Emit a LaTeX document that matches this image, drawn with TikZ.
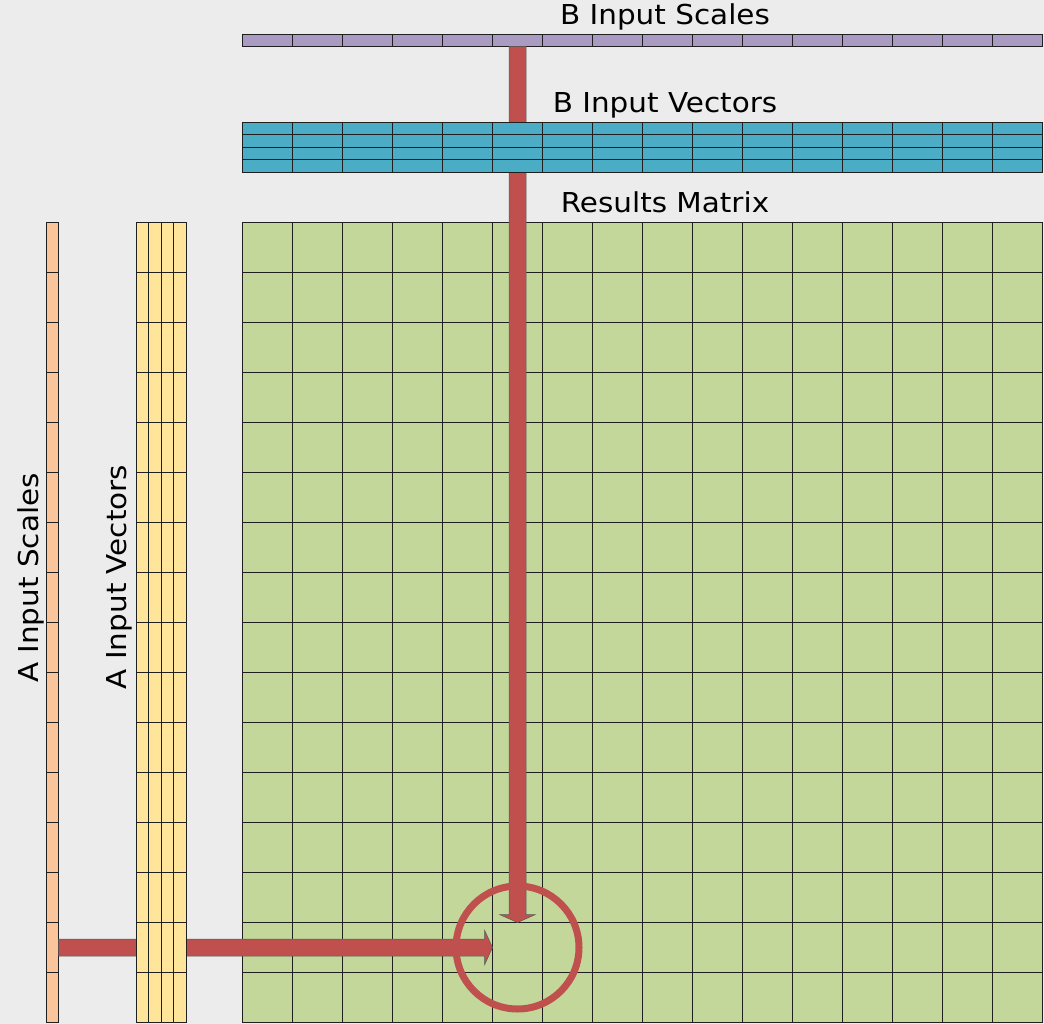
\documentclass[tikz,border=0pt]{standalone}
\usepackage{fontspec}
\setmainfont{DejaVu Sans}
\newfontfamily\lblfont[FakeStretch=1.075]{DejaVu Sans}
\usetikzlibrary{calc}
\definecolor{bg}{HTML}{ECECEC}
\definecolor{resgreen}{HTML}{C4D79B}
\definecolor{bpurple}{HTML}{A99BC1}
\definecolor{bteal}{HTML}{4BACC6}
\definecolor{ayellow}{HTML}{FFE599}
\definecolor{aorange}{HTML}{FAC59B}
\definecolor{arrowred}{HTML}{C0504D}
\begin{document}
\begin{tikzpicture}[x=1pt,y=-1pt,
  gridline/.style={draw=black!88,line width=0.95pt},
  bar/.style={inner sep=0pt,outer sep=0pt,draw=black!88,line width=0.95pt,anchor=north west},
  lbl/.style={font=\lblfont\fontsize{27.4}{30}\selectfont,inner sep=0pt,anchor=base},
  bigarrow/.style={fill=arrowred,draw=black!65,line width=0.5pt,line join=miter},
  ring/.style={draw=arrowred,line width=7pt}]
\fill[bg] (0,0) rectangle (1044,1024);
\useasboundingbox (0,0) rectangle (1044,1024);

% Results matrix
\node[bar,fill=resgreen,minimum width=800pt,minimum height=800pt] (res) at (242,222) {};
\foreach \i in {1,...,15} {
  \draw[gridline] ($(res.north west)+(50*\i,0)$) -- ($(res.south west)+(50*\i,0)$);
  \draw[gridline] ($(res.north west)+(0,50*\i)$) -- ($(res.north east)+(0,50*\i)$);
}

% B input scales
\node[bar,fill=bpurple,minimum width=800pt,minimum height=12.5pt] (bsc) at (242,34) {};
\foreach \i in {1,...,15}
  \draw[gridline] ($(bsc.north west)+(50*\i,0)$) -- ($(bsc.south west)+(50*\i,0)$);

% A input scales
\node[bar,fill=aorange,minimum width=12.5pt,minimum height=800pt] (asc) at (46,222) {};
\foreach \i in {1,...,15}
  \draw[gridline] ($(asc.north west)+(0,50*\i)$) -- ($(asc.north east)+(0,50*\i)$);

% target cell
\coordinate (cell) at ($(res.north west)+(275.5,725.5)$);

% arrows
\draw[bigarrow] ($(cell|-bsc.south)+(-8.5,0)$) -- ($(cell)+(-8.5,-33)$) -- ($(cell)+(-18,-33)$)
  -- ($(cell)+(0,-25)$) -- ($(cell)+(18,-33)$) -- ($(cell)+(8.5,-33)$)
  -- ($(cell|-bsc.south)+(8.5,0)$) -- cycle;
\draw[bigarrow] ($(asc.east|-cell)+(0,-8.5)$) -- ($(cell)+(-33,-8.5)$) -- ($(cell)+(-33,-17.5)$)
  -- ($(cell)+(-25,0)$) -- ($(cell)+(-33,17.5)$) -- ($(cell)+(-33,8.5)$)
  -- ($(asc.east|-cell)+(0,8.5)$) -- cycle;

% B input vectors
\node[bar,fill=bteal,minimum width=800pt,minimum height=50pt] (bvec) at (242,122) {};
\foreach \i in {1,...,15}
  \draw[gridline] ($(bvec.north west)+(50*\i,0)$) -- ($(bvec.south west)+(50*\i,0)$);
\foreach \j in {1,2,3}
  \draw[gridline] ($(bvec.north west)+(0,12.5*\j)$) -- ($(bvec.north east)+(0,12.5*\j)$);

% A input vectors
\node[bar,fill=ayellow,minimum width=50pt,minimum height=800pt] (avec) at (136,222) {};
\foreach \i in {1,...,15}
  \draw[gridline] ($(avec.north west)+(0,50*\i)$) -- ($(avec.north east)+(0,50*\i)$);
\foreach \j in {1,2,3}
  \draw[gridline] ($(avec.north west)+(12.5*\j,0)$) -- ($(avec.south west)+(12.5*\j,0)$);

% highlight ring
\node[ring,circle,minimum size=123pt,inner sep=0pt] (focus) at (cell) {};

% labels
\node[lbl] (lbsc) at (665,25) {B Input Scales};
\node[lbl] (lbvec) at (665,112.7) {B Input Vectors};
\node[lbl] (lres) at (665,212.7) {Results Matrix};
\node[lbl,rotate=90] (lasc) at (38.3,578) {A Input Scales};
\node[lbl,rotate=90] (lavec) at (126.7,577) {A Input Vectors};
\end{tikzpicture}
\end{document}
